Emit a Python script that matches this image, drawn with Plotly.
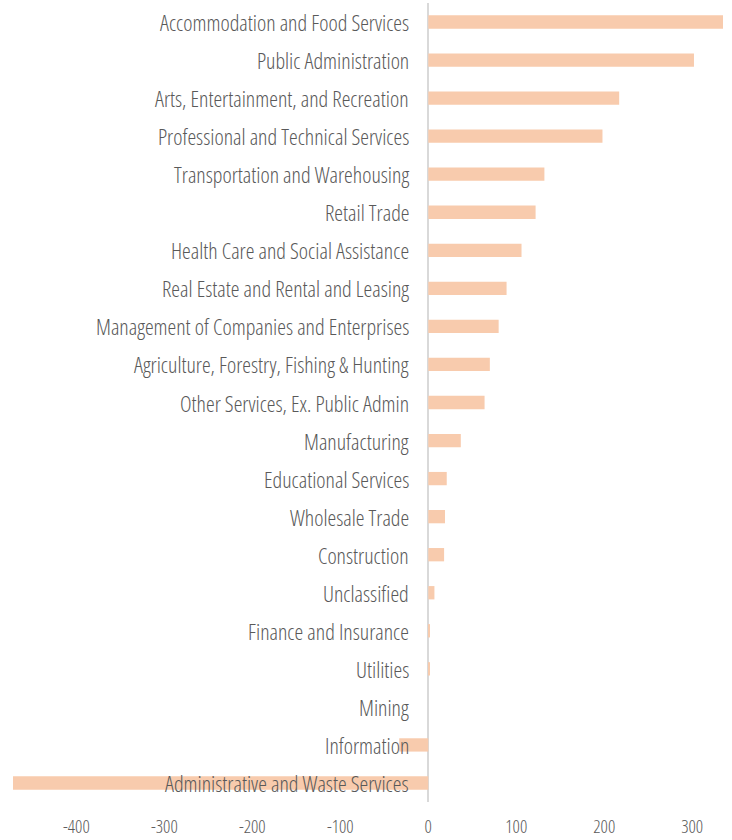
import plotly.graph_objects as go

categories = [
    "Accommodation and Food Services",
    "Public Administration",
    "Arts, Entertainment, and Recreation",
    "Professional and Technical Services",
    "Transportation and Warehousing",
    "Retail Trade",
    "Health Care and Social Assistance",
    "Real Estate and Rental and Leasing",
    "Management of Companies and Enterprises",
    "Agriculture, Forestry, Fishing & Hunting",
    "Other Services, Ex. Public Admin",
    "Manufacturing",
    "Educational Services",
    "Wholesale Trade",
    "Construction",
    "Unclassified",
    "Finance and Insurance",
    "Utilities",
    "Mining",
    "Information",
    "Administrative and Waste Services",
]
values = [335, 302, 217, 198, 132, 122, 106, 89, 80, 70, 64, 37, 21, 19, 18, 7, 2, 2, 0, -33, -472]
tick_vals = [-400, -300, -200, -100, 0, 100, 200, 300]
tick_text = ["-400", "-300", "-200", "-100", "0", "100", "200", "300"]

FONT = "Open Sans"
TEXT = "#595959"


def cond(s):
    return "<span style='font-stretch:condensed'>%s</span>" % s


fig = go.Figure(go.Bar(
    x=values, y=categories, orientation="h",
    marker=dict(color="#F8CBAD", line=dict(width=0)),
    hoverinfo="skip",
))

annotations = [
    dict(x=0, y=c, xref="x", yref="y", text=cond(c), showarrow=False,
         xanchor="right", yanchor="middle", xshift=-17,
         font=dict(family=FONT, size=22, weight=300, color=TEXT))
    for c in categories
]

fig.update_layout(
    width=732, height=840,
    margin=dict(l=13, r=9, t=3, b=38, autoexpand=False),
    paper_bgcolor="white", plot_bgcolor="white",
    showlegend=False, bargap=0.65,
    annotations=annotations,
    xaxis=dict(range=[-472, 335], tickvals=tick_vals, automargin=False,
               ticktext=[cond(t) for t in tick_text], showgrid=False,
               zeroline=True, zerolinecolor="#D9D9D9", zerolinewidth=2,
               showline=False, ticks="", ticklabelstandoff=12,
               tickfont=dict(family=FONT, size=18, weight=300, color=TEXT)),
    yaxis=dict(categoryorder="array", categoryarray=categories, automargin=False,
               autorange="reversed", showticklabels=False, showgrid=False,
               zeroline=False, showline=False, ticks=""),
)

fig.write_html("out.html", config={"displayModeBar": False},
               post_script="document.body.style.margin='0';")
